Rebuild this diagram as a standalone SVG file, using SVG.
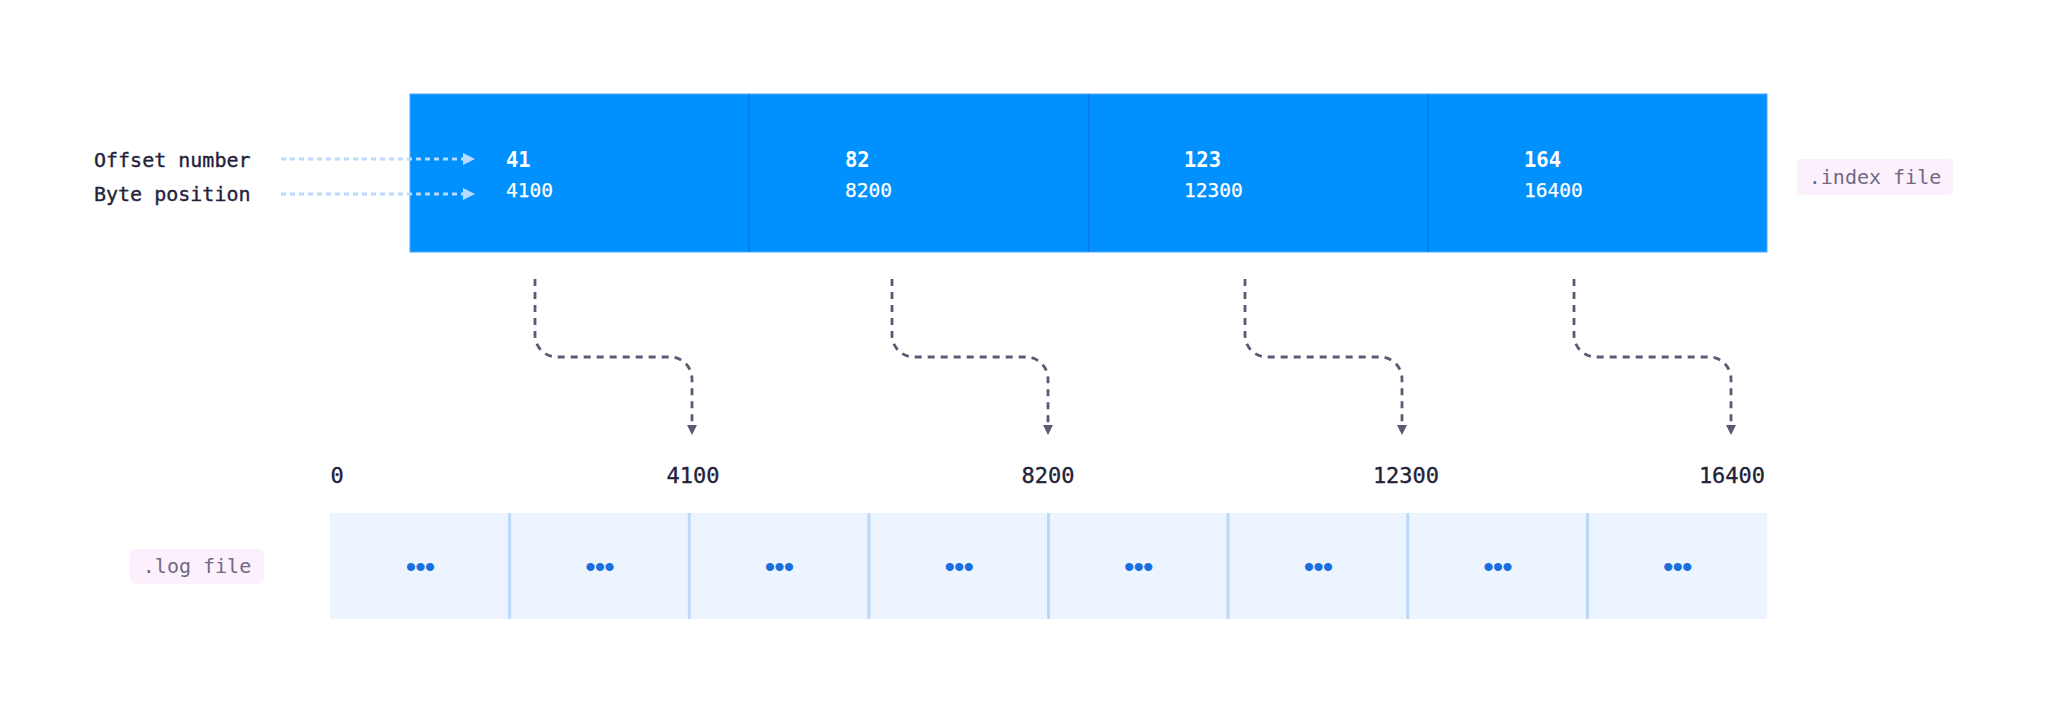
<svg xmlns="http://www.w3.org/2000/svg" width="2048" height="714" viewBox="0 0 2048 714">
<style>
.mono{font-family:"DejaVu Sans Mono","Liberation Mono",monospace}
.lbl{font-size:20px;fill:#23223a;stroke:#23223a;stroke-width:0.35px}
.cellnum{font-size:20.5px;font-weight:bold;fill:#ffffff}
.cellpos{font-size:19.5px;fill:#ffffff;stroke:#ffffff;stroke-width:0.25px}
.axis{font-size:22px;fill:#23223a;text-anchor:middle;stroke:#23223a;stroke-width:0.35px}
.tag{font-size:20px;fill:#6e6a85}
.tagbg{fill:#fcf0fc}
.dots{font-family:"Liberation Sans",Arial,sans-serif;font-size:30px;fill:#1a6fe0;text-anchor:middle;letter-spacing:-1px}
.conn{fill:none;stroke:#5c5875;stroke-width:2.8;stroke-dasharray:7 6}
.hint{fill:none;stroke:#bcdaff;stroke-width:3;stroke-dasharray:5 4}
.logcell{fill:#ecf5ff}
.logdiv{stroke:#bcd8f7;stroke-width:3}
.idxdiv{stroke:#0b78e6;stroke-width:1.5}
</style>
<defs>
<marker id="ahDark" viewBox="0 0 10 10" refX="0" refY="5" markerWidth="10" markerHeight="12" orient="auto" markerUnits="userSpaceOnUse">
<path d="M0,0 L10,5 L0,10 z" fill="#5c5875"/>
</marker>
<marker id="ahLight" viewBox="0 0 10 10" refX="0" refY="5" markerWidth="12" markerHeight="13" orient="auto" markerUnits="userSpaceOnUse">
<path d="M0,0 L10,5 L0,10 z" fill="#bcdaff"/>
</marker>
</defs>
<rect width="2048" height="714" fill="#ffffff"/>

<g id="index-file">
<rect x="410" y="94" width="1357" height="158" fill="#0091ff" stroke="#4ea6ff" stroke-width="1"/>
<line class="idxdiv" x1="749.25" y1="94" x2="749.25" y2="252"/>
<line class="idxdiv" x1="1088.5" y1="94" x2="1088.5" y2="252"/>
<line class="idxdiv" x1="1427.75" y1="94" x2="1427.75" y2="252"/>
</g>
<g id="index-entry-1">
<text class="mono cellnum" x="506" y="167">41</text>
<text class="mono cellpos" x="506" y="197">4100</text>
</g>
<g id="index-entry-2">
<text class="mono cellnum" x="845" y="167">82</text>
<text class="mono cellpos" x="845" y="197">8200</text>
</g>
<g id="index-entry-3">
<text class="mono cellnum" x="1184" y="167">123</text>
<text class="mono cellpos" x="1184" y="197">12300</text>
</g>
<g id="index-entry-4">
<text class="mono cellnum" x="1524" y="167">164</text>
<text class="mono cellpos" x="1524" y="197">16400</text>
</g>

<g id="label-offset">
<text class="mono lbl" x="94" y="167">Offset number</text>
</g>
<g id="label-byte">
<text class="mono lbl" x="94" y="201">Byte position</text>
</g>

<g id="tag-index">
<rect class="tagbg" x="1797" y="159" width="156" height="36" rx="5"/>
<text class="mono tag" x="1875" y="184" text-anchor="middle">.index file</text>
</g>
<g id="tag-log">
<rect class="tagbg" x="130" y="549" width="134" height="35" rx="5"/>
<text class="mono tag" x="197" y="573" text-anchor="middle">.log file</text>
</g>

<g id="axis-labels">
<text class="mono axis" x="337" y="483">0</text>
<text class="mono axis" x="693" y="483">4100</text>
<text class="mono axis" x="1048" y="483">8200</text>
<text class="mono axis" x="1406" y="483">12300</text>
<text class="mono axis" x="1732" y="483">16400</text>
</g>

<g id="log-file">
<rect class="logcell" x="330" y="513" width="1437" height="106"/>
<line class="logdiv" x1="509.6" y1="513" x2="509.6" y2="619"/>
<line class="logdiv" x1="689.25" y1="513" x2="689.25" y2="619"/>
<line class="logdiv" x1="868.9" y1="513" x2="868.9" y2="619"/>
<line class="logdiv" x1="1048.5" y1="513" x2="1048.5" y2="619"/>
<line class="logdiv" x1="1228.1" y1="513" x2="1228.1" y2="619"/>
<line class="logdiv" x1="1407.75" y1="513" x2="1407.75" y2="619"/>
<line class="logdiv" x1="1587.4" y1="513" x2="1587.4" y2="619"/>
<text class="dots" x="420" y="576.5">•••</text>
<text class="dots" x="599.4" y="576.5">•••</text>
<text class="dots" x="779.1" y="576.5">•••</text>
<text class="dots" x="958.7" y="576.5">•••</text>
<text class="dots" x="1138.3" y="576.5">•••</text>
<text class="dots" x="1317.9" y="576.5">•••</text>
<text class="dots" x="1497.6" y="576.5">•••</text>
<text class="dots" x="1677.2" y="576.5">•••</text>
</g>

<g id="connectors">
<path class="hint" d="M281 159 H463" marker-end="url(#ahLight)"/>
<path class="hint" d="M281 194 H463" marker-end="url(#ahLight)"/>
<path class="conn" d="M535 279 V335 A22 22 0 0 0 557 357 H670 A22 22 0 0 1 692 379 V425" marker-end="url(#ahDark)"/>
<path class="conn" d="M892 279 V335 A22 22 0 0 0 914 357 H1026 A22 22 0 0 1 1048 379 V425" marker-end="url(#ahDark)"/>
<path class="conn" d="M1245 279 V335 A22 22 0 0 0 1267 357 H1380 A22 22 0 0 1 1402 379 V425" marker-end="url(#ahDark)"/>
<path class="conn" d="M1574 279 V335 A22 22 0 0 0 1596 357 H1709 A22 22 0 0 1 1731 379 V425" marker-end="url(#ahDark)"/>
</g>
</svg>
